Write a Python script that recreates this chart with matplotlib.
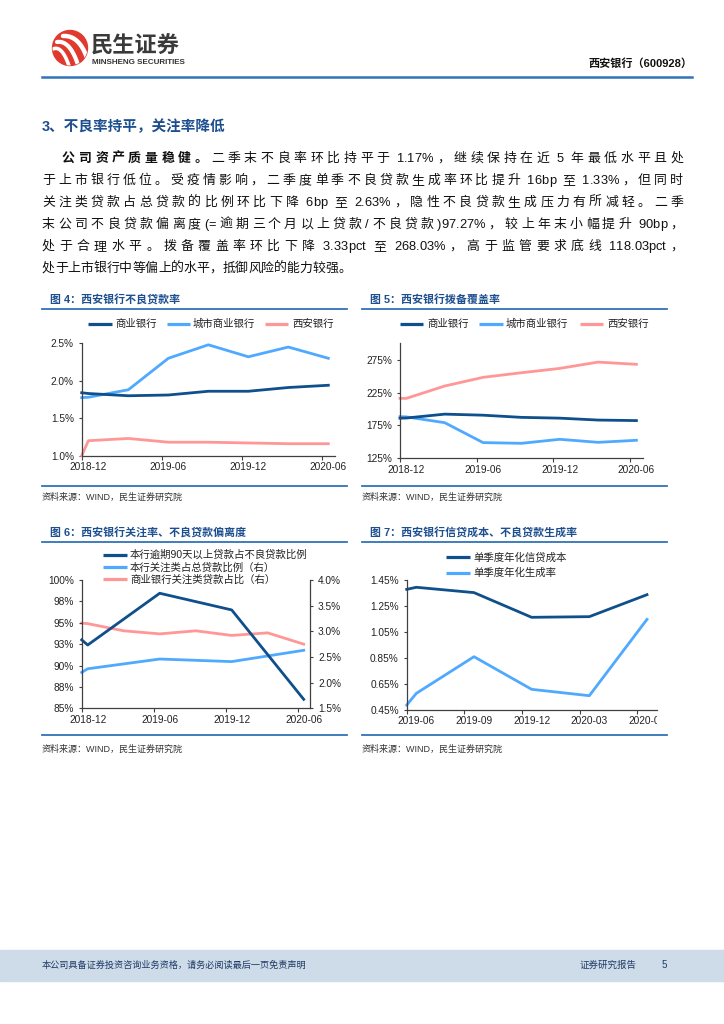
import numpy as np
import pandas as pd
import matplotlib
matplotlib.use('Agg')
import matplotlib.pyplot as plt
from matplotlib.lines import Line2D
from matplotlib.patches import Rectangle, Circle
from matplotlib.transforms import Affine2D, Bbox, TransformedBbox
from matplotlib.font_manager import FontProperties
import matplotlib.ticker as mticker

# ---------------- data ----------------
quarters_a = ['2018-12', '2019-03', '2019-06', '2019-09', '2019-12', '2020-03', '2020-06']
xt_labels_a = ['2018-12', '2019-06', '2019-12', '2020-06']

# Fig 4: NPL ratio (%)
npl_commercial = [1.83, 1.80, 1.81, 1.86, 1.86, 1.91, 1.94]
npl_city = [1.78, 1.88, 2.30, 2.48, 2.32, 2.45, 2.30]
npl_xian = [1.20, 1.23, 1.18, 1.18, 1.17, 1.16, 1.16]
npl_edge = {'commercial': 1.84, 'city': 1.775, 'xian': 1.00}

# Fig 5: provision coverage (%)
cov_commercial = [186.3, 192.2, 190.6, 187.3, 186.1, 183.2, 182.4]
cov_city = [188.0, 179.2, 148.9, 147.8, 153.9, 149.3, 152.4]
cov_xian = [216.2, 235.0, 248.2, 255.2, 261.8, 271.4, 268.0]
cov_edge = {'commercial': 186.0, 'city': 188.4, 'xian': 216.2}

# Fig 6
half_years = ['2018-12', '2019-06', '2019-12', '2020-06']
overdue90_ratio = [92.4, 98.45, 96.5, 86.05]          # left axis
sm_ratio_xian = [2.27, 2.46, 2.41, 2.63]               # right axis
sm_ratio_commercial = [3.15, 3.01, 2.95, 3.01, 2.92, 2.97, 2.75]  # right axis
f6_edge = {'overdue': 93.0, 'sm_xian': 2.20, 'sm_comm': 3.16}
f6_left_ticks = [85, 87.5, 90, 92.5, 95, 97.5, 100]
f6_left_labels = ['85%', '88%', '90%', '93%', '95%', '98%', '100%']
f6_right_ticks = [1.5, 2.0, 2.5, 3.0, 3.5, 4.0]

# Fig 7
quarters_b = ['2019-06', '2019-09', '2019-12', '2020-03', '2020-06']
credit_cost = [1.394, 1.353, 1.163, 1.168, 1.337]
npl_generation = [0.578, 0.860, 0.609, 0.560, 1.147]
f7_edge = {'cost': 1.378, 'gen': 0.488}
f7_yticks = [0.45, 0.65, 0.85, 1.05, 1.25, 1.45]

# ---------------- setup ----------------
FAM = ['Liberation Sans', 'Noto Sans CJK SC']
plt.rcParams['font.family'] = FAM
W, H = 724, 1024
fig = plt.figure(figsize=(W / 100, H / 100), dpi=100)
PX = Affine2D().scale(1 / W, -1 / H).translate(0, 1) + fig.transFigure
renderer = fig.canvas.get_renderer()

DARK = '#0f4f8c'
LIGHT = '#4fa9ff'
PINK = '#ff9797'
TITLE_BLUE = '#1d4f8f'
RULE_BLUE = '#3273b8'


def T(x, y, s, **kw):
    return fig.text(x, y, s, transform=PX, **kw)


def L(x0, x1, y0, y1, **kw):
    ln = Line2D([x0, x1], [y0, y1], transform=PX, **kw)
    fig.add_artist(ln)
    return ln


def add_ax(x0, y0, x1, y1):
    return fig.add_axes([x0 / W, 1 - y1 / H, (x1 - x0) / W, (y1 - y0) / H])


def month_pos(labels, origin):
    o = pd.Period(origin, 'M')
    return [(pd.Period(l, 'M') - o).n + 0.5 for l in labels]


def measure(s, fp):
    w, _, _ = renderer.get_text_width_height_descent('|' + s + '|', fp, ismath=False)
    w0, _, _ = renderer.get_text_width_height_descent('||', fp, ismath=False)
    return w - w0


def gap_weight(a, b):
    if a == ' ' or b == ' ':
        return 0.5
    if ord(a) > 127 or ord(b) > 127:
        return 1.0
    return 0.0


def draw_line(segments, x0, x1, ybase, fs, justify=True, color='#111111'):
    chars = []
    for text, weight in segments:
        fp = FontProperties(family=FAM, size=fs, weight=weight)
        for ch in text:
            chars.append((ch, weight, measure(ch, fp)))
    total = sum(c[2] for c in chars)
    weights = [gap_weight(a[0], b[0]) for a, b in zip(chars[:-1], chars[1:])]
    wsum = sum(weights)
    gap = (x1 - x0 - total) / wsum if (justify and wsum > 0) else 0.0
    x = x0
    for i, (ch, weight, w) in enumerate(chars):
        if ch != ' ':
            T(x, ybase, ch, fontsize=fs, fontweight=weight, ha='left', va='baseline', color=color)
        x += w
        if i < len(weights):
            x += gap * weights[i]


def style_axes(ax):
    for s in ['top', 'right']:
        ax.spines[s].set_visible(False)
    for s in ['left', 'bottom']:
        ax.spines[s].set_color('#404040')
        ax.spines[s].set_linewidth(0.9)
    ax.tick_params(axis='y', length=2.5, width=0.8, color='#404040', pad=3.2, labelsize=7.3, labelcolor='#222222')
    ax.tick_params(axis='x', which='major', length=0, pad=4.5, labelsize=7.3, labelcolor='#222222')
    ax.tick_params(axis='x', which='minor', length=2.8, width=0.8, color='#404040')
    ax.patch.set_visible(False)


def legend_h(items, y, fs=7.5):
    for x0, x1, tx, color, label in items:
        L(x0, x1, y, y, color=color, lw=2.3, solid_capstyle='butt')
        T(tx, y, label, fontsize=fs, va='center', ha='left', color='#222222')


def chart_frame(x0, x1, ytitle, yrule_top, yrule_bot, ysrc, title):
    T(x0 + 8, ytitle, title, fontsize=7.9, fontweight='bold', color=TITLE_BLUE, va='center', ha='left')
    L(x0, x1, yrule_top, yrule_top, color=RULE_BLUE, lw=1.3)
    L(x0, x1, yrule_bot, yrule_bot, color=RULE_BLUE, lw=1.3)
    T(x0, ysrc, '资料来源：WIND，民生证券研究院', fontsize=6.5, color='#333333', va='center', ha='left')


# ---------------- header ----------------
circ = Circle((70, 48), 17.5, transform=PX, color='#e0392e')
fig.add_artist(circ)
for (p0, p1, p2, lw) in [((53, 49), (62, 45), (69, 66), 2.6),
                         ((57, 42), (70, 40), (78, 65), 3.0),
                         ((63, 36), (79, 35), (87, 58), 3.2)]:
    t = np.linspace(0, 1, 30)
    xs = (1 - t) ** 2 * p0[0] + 2 * (1 - t) * t * p1[0] + t ** 2 * p2[0]
    ys = (1 - t) ** 2 * p0[1] + 2 * (1 - t) * t * p1[1] + t ** 2 * p2[1]
    sw = Line2D(xs, ys, transform=PX, color='white', lw=lw, solid_capstyle='round')
    fig.add_artist(sw)
    sw.set_clip_path(circ)

T(91, 46, '民生证券', fontsize=16, fontweight='bold', color='#3a3a3a', va='center', ha='left',
  family=['Noto Sans CJK SC'])
T(92, 62.5, 'MINSHENG SECURITIES', fontsize=5.8, fontweight='bold', color='#333333', va='center', ha='left')
T(692, 64, '西安银行（600928）', fontsize=8, fontweight='bold', color='#111111', va='center', ha='right')
L(42, 692, 76.5, 76.5, color=RULE_BLUE, lw=1.8)

# ---------------- heading & paragraph ----------------
T(42, 127, '3、不良率持平，关注率降低', fontsize=10.5, fontweight='bold', color=TITLE_BLUE, va='center', ha='left')

FS = 9.3
lines = [
    ([('公司资产质量稳健。', 'bold'), ('二季末不良率环比持平于 1.17%，继续保持在近 5 年最低水平且处', 'normal')], 62, True),
    ([('于上市银行低位。受疫情影响，二季度单季不良贷款生成率环比提升 16bp 至 1.33%，但同时', 'normal')], 42, True),
    ([('关注类贷款占总贷款的比例环比下降 6bp 至 2.63%，隐性不良贷款生成压力有所减轻。二季', 'normal')], 42, True),
    ([('末公司不良贷款偏离度(=逾期三个月以上贷款/不良贷款)97.27%，较上年末小幅提升 90bp，', 'normal')], 42, True),
    ([('处于合理水平。拨备覆盖率环比下降 3.33pct 至 268.03%，高于监管要求底线 118.03pct，', 'normal')], 42, True),
    ([('处于上市银行中等偏上的水平，抵御风险的能力较强。', 'normal')], 42, False),
]
for i, (segs, x0, just) in enumerate(lines):
    draw_line(segs, x0, 683, 162 + 22 * i, FS, justify=just)

# ---------------- Fig 4 ----------------
chart_frame(42, 347, 300, 308.5, 485.5, 497, '图 4：西安银行不良贷款率')
legend_h([(88, 112, 115, DARK, '商业银行'), (167, 190, 193, LIGHT, '城市商业银行'),
          (265, 288, 292, PINK, '西安银行')], 323.5)
ax4 = add_ax(81.7, 343.3, 335, 455.7)
xa = month_pos(quarters_a, '2018-12')
ax4.plot([0] + xa, [npl_edge['city']] + npl_city, color=LIGHT, lw=2.0, clip_on=False)
ax4.plot([0] + xa, [npl_edge['xian']] + npl_xian, color=PINK, lw=2.0, clip_on=False)
ax4.plot([0] + xa, [npl_edge['commercial']] + npl_commercial, color=DARK, lw=2.0, clip_on=False)
ax4.set_xlim(0, 19)
ax4.set_ylim(1.0, 2.5)
ax4.set_yticks([1.0, 1.5, 2.0, 2.5])
ax4.yaxis.set_major_formatter(mticker.FuncFormatter(lambda v, p: f'{v:.1f}%'))
ax4.set_xticks(month_pos(xt_labels_a, '2018-12'), xt_labels_a)
ax4.set_xticks([p - 0.5 for p in month_pos(xt_labels_a, '2018-12')], minor=True)
style_axes(ax4)

# ---------------- Fig 5 ----------------
chart_frame(362, 667, 300, 308.5, 485.5, 497, '图 5：西安银行拨备覆盖率')
legend_h([(400, 423, 427, DARK, '商业银行'), (479, 503, 506, LIGHT, '城市商业银行'),
          (580, 603, 607, PINK, '西安银行')], 323.5)
ax5 = add_ax(400, 343.3, 642.8, 458.3)
ax5.plot([0] + xa, [cov_edge['city']] + cov_city, color=LIGHT, lw=2.0, clip_on=False)
ax5.plot([0] + xa, [cov_edge['commercial']] + cov_commercial, color=DARK, lw=2.0, clip_on=False)
ax5.plot([0] + xa, [cov_edge['xian']] + cov_xian, color=PINK, lw=2.0, clip_on=False)
ax5.set_xlim(0, 19)
ax5.set_ylim(125, 300)
ax5.set_yticks([125, 175, 225, 275])
ax5.yaxis.set_major_formatter(mticker.FuncFormatter(lambda v, p: f'{v:.0f}%'))
ax5.set_xticks(month_pos(xt_labels_a, '2018-12'), xt_labels_a)
ax5.set_xticks([p - 0.5 for p in month_pos(xt_labels_a, '2018-12')], minor=True)
style_axes(ax5)

# ---------------- Fig 6 ----------------
chart_frame(42, 347, 533.5, 541.5, 735, 749, '图 6：西安银行关注率、不良贷款偏离度')
L(103, 127, 555, 555, color=DARK, lw=2.3, solid_capstyle='butt')
T(130, 555, '本行逾期90天以上贷款占不良贷款比例', fontsize=7.5, va='center', ha='left', color='#222222')
L(103, 127, 567.3, 567.3, color=LIGHT, lw=2.3, solid_capstyle='butt')
T(130, 567.3, '本行关注类占总贷款比例（右）', fontsize=7.5, va='center', ha='left', color='#222222')
L(103, 127, 579.3, 579.3, color=PINK, lw=2.3, solid_capstyle='butt')
T(130, 579.3, '商业银行关注类贷款占比（右）', fontsize=7.5, va='center', ha='left', color='#222222')

ax6 = add_ax(81.7, 580, 309.7, 708.3)
ax6r = ax6.twinx()
xh = month_pos(half_years, '2018-12')
ax6r.plot([0] + xa, [f6_edge['sm_comm']] + sm_ratio_commercial, color=PINK, lw=2.0, clip_on=False)
ax6r.plot([0] + xh, [f6_edge['sm_xian']] + sm_ratio_xian, color=LIGHT, lw=2.0, clip_on=False)
ax6.plot([0] + xh, [f6_edge['overdue']] + overdue90_ratio, color=DARK, lw=2.0, clip_on=False)
ax6.set_zorder(ax6r.get_zorder() + 1)
ax6.set_xlim(0, 19)
ax6.set_ylim(85, 100)
ax6r.set_ylim(1.5, 4.0)
ax6.set_yticks(f6_left_ticks, f6_left_labels)
ax6r.set_yticks(f6_right_ticks)
ax6r.yaxis.set_major_formatter(mticker.FuncFormatter(lambda v, p: f'{v:.1f}%'))
ax6.set_xticks(month_pos(xt_labels_a, '2018-12'), xt_labels_a)
ax6.set_xticks([p - 0.5 for p in month_pos(xt_labels_a, '2018-12')], minor=True)
style_axes(ax6)
for s in ['top', 'left', 'bottom']:
    ax6r.spines[s].set_visible(False)
ax6r.spines['right'].set_color('#404040')
ax6r.spines['right'].set_linewidth(0.9)
ax6r.tick_params(axis='y', length=2.5, width=0.8, color='#404040', pad=3.5, labelsize=7.3, labelcolor='#222222')

# ---------------- Fig 7 ----------------
chart_frame(362, 667, 533.5, 541.5, 735, 749, '图 7：西安银行信贷成本、不良贷款生成率')
L(446, 470, 557.3, 557.3, color=DARK, lw=2.3, solid_capstyle='butt')
T(473, 557.3, '单季度年化信贷成本', fontsize=7.5, va='center', ha='left', color='#222222')
L(446, 470, 572.7, 572.7, color=LIGHT, lw=2.3, solid_capstyle='butt')
T(473, 572.7, '单季度年化生成率', fontsize=7.5, va='center', ha='left', color='#222222')

ax7 = add_ax(406.7, 580, 656.6, 710)
xb = month_pos(quarters_b, '2019-06')
ax7.plot([0] + xb, [f7_edge['gen']] + npl_generation, color=LIGHT, lw=2.0, clip_on=False)
ax7.plot([0] + xb, [f7_edge['cost']] + credit_cost, color=DARK, lw=2.0, clip_on=False)
ax7.set_xlim(0, 13)
ax7.set_ylim(0.45, 1.45)
ax7.set_yticks(f7_yticks)
ax7.yaxis.set_major_formatter(mticker.FuncFormatter(lambda v, p: f'{v:.2f}%'))
ax7.set_xticks(xb, quarters_b)
ax7.set_xticks([p - 0.5 for p in xb], minor=True)
style_axes(ax7)
lab = ax7.get_xticklabels()[-1]
lab.set_clip_box(TransformedBbox(Bbox.from_extents(0, 0, 657 / W, 1), fig.transFigure))
lab.set_clip_on(True)

# ---------------- footer ----------------
fig.add_artist(Rectangle((0, 950), W, 31, transform=PX, color='#cedcea', zorder=0))
T(42, 965.5, '本公司具备证券投资咨询业务资格，请务必阅读最后一页免责声明', fontsize=6.6, color='#1f3a63',
  va='center', ha='left')
T(580, 965.5, '证券研究报告', fontsize=6.8, color='#1f3a63', va='center', ha='left')
T(662, 965.5, '5', fontsize=7, color='#1f3a63', va='center', ha='left')

fig.savefig('out.png', dpi=100)
